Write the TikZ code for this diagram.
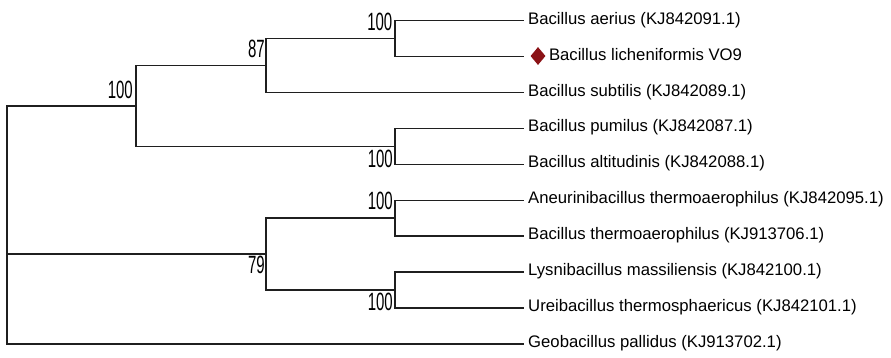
\documentclass[tikz,border=0pt]{standalone}
\usepackage{fontspec}
\setmainfont{Liberation Sans}
\newfontfamily\bootfont[FakeStretch=0.6]{Liberation Sans}
\usetikzlibrary{shapes.geometric}
\definecolor{markred}{RGB}{139,18,22}
\tikzset{
  branch/.style={line width=1.4pt, draw=black!88},
  taxon/.style={anchor=base west, inner sep=0pt, font=\fontsize{16.7}{20}\selectfont},
  boot/.style={anchor=base east, inner sep=0pt, font=\bootfont\fontsize{25}{28}\selectfont},
  marker/.style={diamond, fill=markred, inner sep=0pt, minimum width=15pt, minimum height=18pt}
}
\begin{document}
\begin{tikzpicture}[x=1pt,y=-1pt]
\useasboundingbox (0,0) rectangle (891,357);
% leaf tips
\foreach \i/\y in {1/20.7,2/56.6,3/92.5,4/128.4,5/164.3,6/200.2,7/236.1,8/272.0,9/307.9,10/343.8}
  \coordinate (t\i) at (524,\y);
% internal nodes
\coordinate (C) at (395,38.65);
\coordinate (D) at (395,146.35);
\coordinate (F) at (395,218.15);
\coordinate (G) at (395,289.95);
\coordinate (B) at (266,65.6);
\coordinate (E) at (266,254.05);
\coordinate (A) at (136,105.95);
\coordinate (R) at (7,224.9);
% branches
\draw[branch] (R) |- (A);
\draw[branch] (R) |- (E);
\draw[branch] (R) |- (t10);
\draw[branch] (A) |- (B);
\draw[branch] (A) |- (D);
\draw[branch] (B) |- (C);
\draw[branch] (B) |- (t3);
\draw[branch] (C) |- (t1);
\draw[branch] (C) |- (t2);
\draw[branch] (D) |- (t4);
\draw[branch] (D) |- (t5);
\draw[branch] (E) |- (F);
\draw[branch] (E) |- (G);
\draw[branch] (F) |- (t6);
\draw[branch] (F) |- (t7);
\draw[branch] (G) |- (t8);
\draw[branch] (G) |- (t9);
% bootstrap values
\node[boot] (bC) at (392.5,30) {100};
\node[boot] (bA) at (133,98) {100};
\node[boot] (bB) at (265,57) {87};
\node[boot] (bD) at (393,167) {100};
\node[boot] (bF) at (393,209) {100};
\node[boot] (bE) at (265,273) {79};
\node[boot] (bG) at (393,310) {100};
% taxa
\node[taxon] (n1) at (528,24.2) {Bacillus aerius (KJ842091.1)};
\node[marker] (m2) at (538,56) {};
\node[taxon] (n2) at (548.8,60.1) {Bacillus licheniformis VO9};
\node[taxon] (n3) at (528,96.0) {Bacillus subtilis (KJ842089.1)};
\node[taxon] (n4) at (528,131.9) {Bacillus pumilus (KJ842087.1)};
\node[taxon] (n5) at (528,167.8) {Bacillus altitudinis (KJ842088.1)};
\node[taxon] (n6) at (528,203.7) {Aneurinibacillus thermoaerophilus (KJ842095.1)};
\node[taxon] (n7) at (528,239.6) {Bacillus thermoaerophilus (KJ913706.1)};
\node[taxon] (n8) at (528,275.5) {Lysnibacillus massiliensis (KJ842100.1)};
\node[taxon] (n9) at (528,311.4) {Ureibacillus thermosphaericus (KJ842101.1)};
\node[taxon] (n10) at (528,347.3) {Geobacillus pallidus (KJ913702.1)};
\end{tikzpicture}
\end{document}
